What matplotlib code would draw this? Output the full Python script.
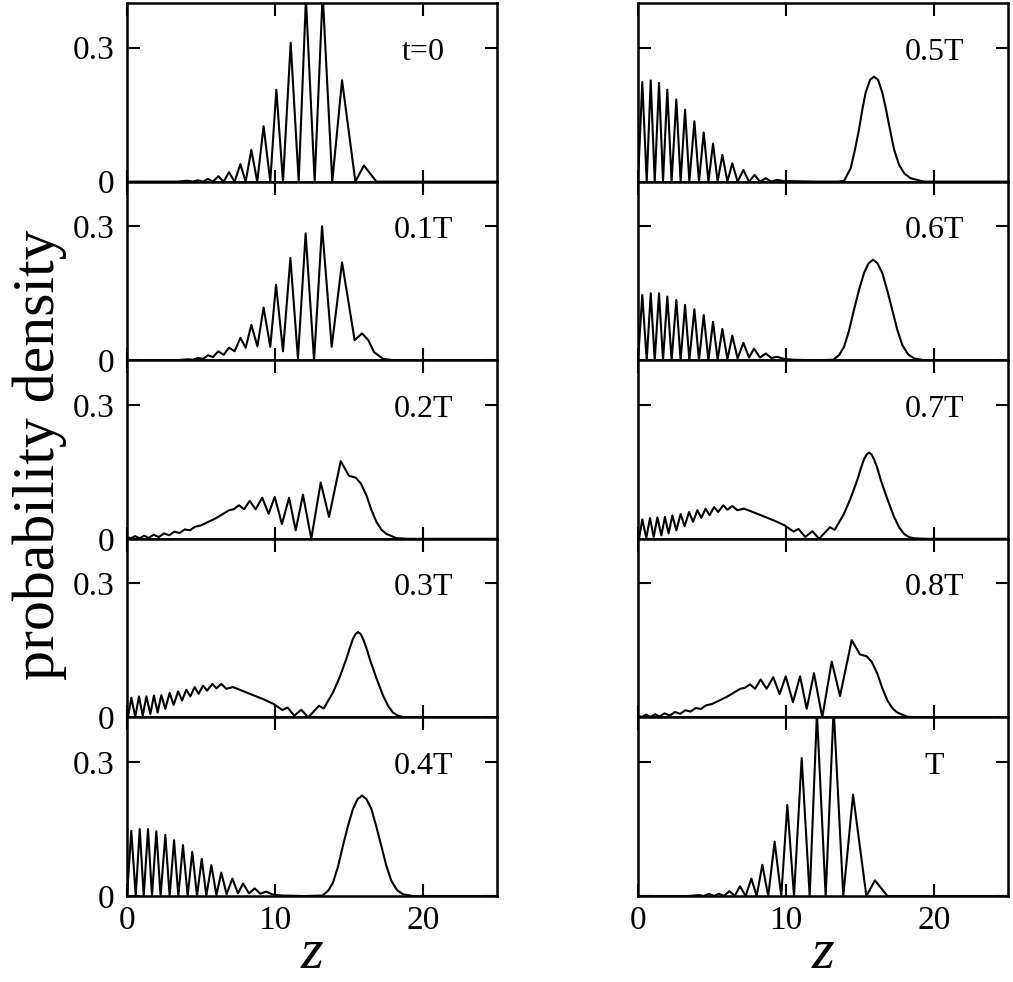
#script to redraw the probability density panels (t = 0 ... T)
import numpy as np
import matplotlib.pyplot as plt
import matplotlib as mpl

mpl.rcParams['font.family'] = 'Liberation Serif'
mpl.rcParams['mathtext.fontset'] = 'custom'
mpl.rcParams['mathtext.it'] = 'Liberation Serif:italic'
mpl.rcParams['mathtext.rm'] = 'Liberation Serif'

# ---- data: z positions and probability density ----
z_t0 = [0, 3.4, 4.12, 4.45, 4.80, 5.13, 5.47, 5.81, 6.17, 6.53, 6.89, 7.27, 7.66, 8.02,
        8.40, 8.80, 9.23, 9.68, 10.09, 10.54, 11.06, 11.60, 12.09, 12.68, 13.22, 13.87,
        14.53, 15.43, 16.01, 16.85, 25]
p_t0 = [0, 0, 0.002, 0, 0.003, 0, 0.006, 0, 0.012, 0, 0.021, 0, 0.039, 0,
        0.071, 0, 0.124, 0, 0.206, 0, 0.311, 0, 0.41, 0, 0.42, 0,
        0.227, 0, 0.036, 0, 0]

z_01 = [0, 3.3, 4.10, 4.45, 4.80, 5.14, 5.47, 5.81, 6.17, 6.53, 6.89, 7.27, 7.66, 8.02,
        8.40, 8.81, 9.23, 9.68, 10.07, 10.54, 11.04, 11.55, 12.07, 12.64, 13.18, 13.83,
        14.53, 15.38, 15.88, 16.3, 16.7, 17.3, 18.0, 25]
p_01 = [0, 0, 0.002, 0.001, 0.005, 0.003, 0.011, 0.007, 0.020, 0.012, 0.028, 0.020, 0.050, 0.028,
        0.079, 0.031, 0.118, 0.030, 0.169, 0.020, 0.229, 0.004, 0.284, 0.0, 0.300, 0.030,
        0.219, 0.045, 0.060, 0.045, 0.018, 0.003, 0, 0]

z_02 = [0, 0.25, 0.55, 0.85, 1.15, 1.45, 1.8, 2.15, 2.5, 2.85, 3.2, 3.55, 3.9, 4.25, 4.6,
        5.0, 5.5, 6.0, 6.5, 6.9, 7.2, 7.57, 7.91, 8.29, 8.69, 9.14, 9.57, 9.98, 10.47,
        10.95, 11.40, 11.89, 12.45, 13.09, 13.65, 14.44, 15.0, 15.45, 15.8, 16.17, 16.5,
        16.85, 17.2, 17.52, 18.2, 19.0, 25]
p_02 = [0.004, 0.001, 0.006, 0.001, 0.007, 0.002, 0.009, 0.004, 0.012, 0.008, 0.016, 0.013,
        0.021, 0.019, 0.027, 0.030, 0.038, 0.046, 0.056, 0.064, 0.066, 0.075, 0.066, 0.085,
        0.066, 0.092, 0.056, 0.094, 0.033, 0.092, 0.019, 0.099, 0.0, 0.126, 0.049, 0.174,
        0.141, 0.137, 0.124, 0.098, 0.066, 0.038, 0.020, 0.011, 0.0015, 0, 0]

z_03 = [0.0, 0.07, 0.29, 0.56, 0.81, 1.06, 1.31, 1.58, 1.82, 2.07, 2.32, 2.59, 2.88, 3.15,
        3.45, 3.72, 4.01, 4.28, 4.57, 4.84, 5.14, 5.41, 5.77, 6.04, 6.37, 6.71, 7.16, 7.61,
        8.51, 9.19, 9.91, 10.5, 10.85, 11.3, 11.78, 12.24, 12.97, 13.29, 13.92, 14.37, 14.82,
        15.05, 15.27, 15.45, 15.61, 15.78, 15.95, 16.18, 16.40, 16.85, 17.30, 17.64, 17.97,
        18.3, 18.65, 19.5, 25]
p_03 = [0.0, 0.0, 0.044, 0.0015, 0.047, 0.004, 0.047, 0.0075, 0.049, 0.011, 0.050, 0.019,
        0.055, 0.028, 0.058, 0.038, 0.062, 0.047, 0.068, 0.053, 0.071, 0.060, 0.075, 0.065,
        0.075, 0.064, 0.068, 0.062, 0.050, 0.041, 0.030, 0.0165, 0.022, 0.004, 0.017, 0.0,
        0.026, 0.020, 0.056, 0.090, 0.131, 0.155, 0.176, 0.187, 0.191, 0.187, 0.176, 0.155,
        0.131, 0.088, 0.049, 0.026, 0.011, 0.004, 0.001, 0, 0]

z_04 = [0, 0.29, 0.59, 0.86, 1.13, 1.42, 1.69, 1.98, 2.27, 2.59, 2.88, 3.18, 3.47, 3.78,
        4.10, 4.41, 4.73, 5.05, 5.36, 5.70, 6.04, 6.37, 6.73, 7.12, 7.50, 7.84, 8.24, 8.63,
        9.01, 9.41, 9.86, 10.5, 12.0, 13.2, 13.6, 13.92, 14.25, 14.59, 14.93, 15.27, 15.58,
        15.88, 16.18, 16.51, 16.85, 17.18, 17.52, 17.86, 18.25, 18.65, 19.32, 25]
p_04 = [0, 0.146, 0, 0.150, 0, 0.150, 0, 0.145, 0, 0.137, 0, 0.125, 0, 0.114,
        0, 0.099, 0, 0.083, 0.001, 0.069, 0.002, 0.0525, 0.004, 0.039, 0.006, 0.028, 0.006, 0.017,
        0.005, 0.010, 0.003, 0.001, 0, 0.001, 0.012, 0.030, 0.065, 0.1125, 0.157, 0.195, 0.217,
        0.225, 0.217, 0.195, 0.155, 0.1125, 0.068, 0.034, 0.013, 0.004, 0, 0]

z_05 = [0, 0.29, 0.59, 0.86, 1.13, 1.42, 1.69, 1.98, 2.27, 2.59, 2.88, 3.18, 3.47, 3.81,
        4.12, 4.44, 4.76, 5.07, 5.38, 5.70, 6.04, 6.37, 6.73, 7.12, 7.50, 7.88, 8.24, 8.63,
        9.01, 9.41, 9.86, 10.5, 12.0, 13.5, 13.92, 14.37, 14.65, 14.93, 15.15, 15.38, 15.68,
        15.95, 16.22, 16.51, 16.75, 17.03, 17.3, 17.64, 18.0, 18.42, 19.32, 25]
p_05 = [0, 0.223, 0, 0.2265, 0, 0.221, 0, 0.206, 0, 0.184, 0, 0.161, 0, 0.135,
        0, 0.110, 0, 0.085, 0, 0.060, 0, 0.041, 0, 0.026, 0, 0.015, 0, 0.0075,
        0, 0.004, 0.001, 0.001, 0, 0, 0.0015, 0.03, 0.070, 0.116, 0.160, 0.199, 0.228,
        0.235, 0.228, 0.199, 0.163, 0.116, 0.072, 0.0375, 0.018, 0.0075, 0, 0]

z_06 = [0, 0.29, 0.59, 0.86, 1.13, 1.42, 1.69, 1.98, 2.27, 2.59, 2.88, 3.18, 3.47, 3.81,
        4.12, 4.44, 4.76, 5.07, 5.38, 5.70, 6.04, 6.37, 6.73, 7.12, 7.50, 7.84, 8.24, 8.63,
        9.01, 9.41, 9.86, 10.5, 12.0, 13.2, 13.6, 13.92, 14.25, 14.59, 14.93, 15.27, 15.58,
        15.88, 16.18, 16.51, 16.85, 17.18, 17.52, 17.86, 18.25, 18.65, 19.32, 25]
p_06 = [0, 0.146, 0, 0.150, 0, 0.150, 0, 0.1425, 0, 0.135, 0, 0.124, 0, 0.114,
        0, 0.101, 0, 0.086, 0.001, 0.070, 0.002, 0.055, 0.004, 0.039, 0.006, 0.026, 0.006, 0.015,
        0.005, 0.0075, 0.003, 0.001, 0, 0.001, 0.012, 0.030, 0.065, 0.1125, 0.157, 0.195, 0.217,
        0.225, 0.217, 0.195, 0.155, 0.1125, 0.068, 0.034, 0.013, 0.004, 0, 0]

z_07 = [0.0, 0.07, 0.29, 0.56, 0.81, 1.06, 1.31, 1.58, 1.82, 2.07, 2.32, 2.59, 2.88, 3.15,
        3.45, 3.72, 4.01, 4.28, 4.57, 4.84, 5.14, 5.41, 5.77, 6.04, 6.37, 6.71, 7.16, 7.61,
        8.51, 9.19, 9.91, 10.5, 10.85, 11.3, 11.78, 12.24, 12.97, 13.29, 13.92, 14.37, 14.82,
        15.05, 15.27, 15.45, 15.61, 15.78, 15.95, 16.18, 16.40, 16.85, 17.30, 17.64, 17.97,
        18.3, 18.65, 19.5, 25]
p_07 = [0.0, 0.0, 0.0435, 0.0015, 0.0465, 0.004, 0.048, 0.0075, 0.049, 0.012, 0.0525, 0.019,
        0.0555, 0.028, 0.060, 0.038, 0.064, 0.047, 0.0675, 0.053, 0.071, 0.060, 0.075, 0.065,
        0.0735, 0.064, 0.0675, 0.062, 0.050, 0.041, 0.030, 0.0165, 0.022, 0.004, 0.017, 0.0,
        0.026, 0.020, 0.056, 0.091, 0.132, 0.157, 0.178, 0.189, 0.193, 0.189, 0.178, 0.157,
        0.132, 0.089, 0.049, 0.026, 0.011, 0.004, 0.001, 0, 0]

z_08 = [0, 0.25, 0.55, 0.85, 1.15, 1.45, 1.8, 2.15, 2.5, 2.85, 3.2, 3.55, 3.9, 4.25, 4.6,
        5.0, 5.5, 6.0, 6.5, 6.9, 7.2, 7.57, 7.91, 8.29, 8.69, 9.14, 9.57, 9.98, 10.47,
        10.95, 11.40, 11.89, 12.45, 13.09, 13.65, 14.44, 15.0, 15.45, 15.8, 16.17, 16.5,
        16.85, 17.2, 17.52, 18.2, 19.0, 25]
p_08 = [0.004, 0.001, 0.006, 0.001, 0.007, 0.002, 0.009, 0.004, 0.012, 0.008, 0.016, 0.013,
        0.021, 0.019, 0.027, 0.030, 0.038, 0.046, 0.056, 0.064, 0.066, 0.074, 0.064, 0.085,
        0.064, 0.090, 0.052, 0.092, 0.034, 0.092, 0.019, 0.099, 0.0, 0.125, 0.048, 0.173,
        0.141, 0.137, 0.124, 0.098, 0.066, 0.038, 0.020, 0.011, 0.0015, 0, 0]

z_T = [0, 3.4, 4.12, 4.45, 4.80, 5.13, 5.47, 5.81, 6.17, 6.53, 6.89, 7.27, 7.66, 8.02,
       8.40, 8.80, 9.23, 9.68, 10.09, 10.54, 11.06, 11.60, 12.09, 12.68, 13.22, 13.87,
       14.53, 15.43, 16.01, 16.85, 25]
p_T = [0, 0, 0.002, 0, 0.005, 0, 0.005, 0, 0.011, 0, 0.022, 0, 0.039, 0,
       0.070, 0, 0.1215, 0, 0.204, 0, 0.309, 0, 0.41, 0, 0.42, 0,
       0.227, 0, 0.035, 0, 0]

labels = ['t=0', '0.1T', '0.2T', '0.3T', '0.4T', '0.5T', '0.6T', '0.7T', '0.8T', 'T']
zs = [z_t0, z_01, z_02, z_03, z_04, z_05, z_06, z_07, z_08, z_T]
ps = [p_t0, p_01, p_02, p_03, p_04, p_05, p_06, p_07, p_08, p_T]

xticks = [0, 10, 20]
yticks = [0, 0.3]
ytick_labels = ['0', '0.3']

fig_w, fig_h = 1013, 982
fig = plt.figure(figsize=(fig_w / 100, fig_h / 100), dpi=100)

ax_w = 370 / fig_w
ax_h = 178.6 / fig_h
col_left = [127 / fig_w, 638 / fig_w]

for i in range(10):
    col = i // 5
    row = i % 5
    bottom = (fig_h - 3 - (row + 1) * 178.6) / fig_h
    ax = fig.add_axes([col_left[col], bottom, ax_w, ax_h])
    ax.plot(zs[i], ps[i], color='black', lw=1.5, solid_joinstyle='round')
    ax.set_xlim(0, 25)
    ax.set_ylim(0, 0.4)
    ax.set_xticks(xticks)
    ax.set_yticks(yticks)
    ax.tick_params(direction='in', top=True, right=True, length=9, width=1.5,
                   labelsize=24, pad=9)
    for s in ax.spines.values():
        s.set_linewidth(1.8)
    if col == 0:
        ax.set_yticklabels(ytick_labels)
    else:
        ax.set_yticklabels([])
    if row == 4:
        ax.set_xticklabels([str(t) for t in xticks])
        ax.tick_params(axis='x', pad=7)
        ax.set_xlabel('$z$', fontsize=42, labelpad=-6)
    else:
        ax.set_xticklabels([])
    ax.text(20, 0.29, labels[i], fontsize=23, ha='center', va='center')

fig.text(40 / fig_w, 1 - 455 / fig_h, 'probability density', rotation=90,
         fontsize=43, ha='center', va='center')

plt.savefig('out.png', dpi=100)
